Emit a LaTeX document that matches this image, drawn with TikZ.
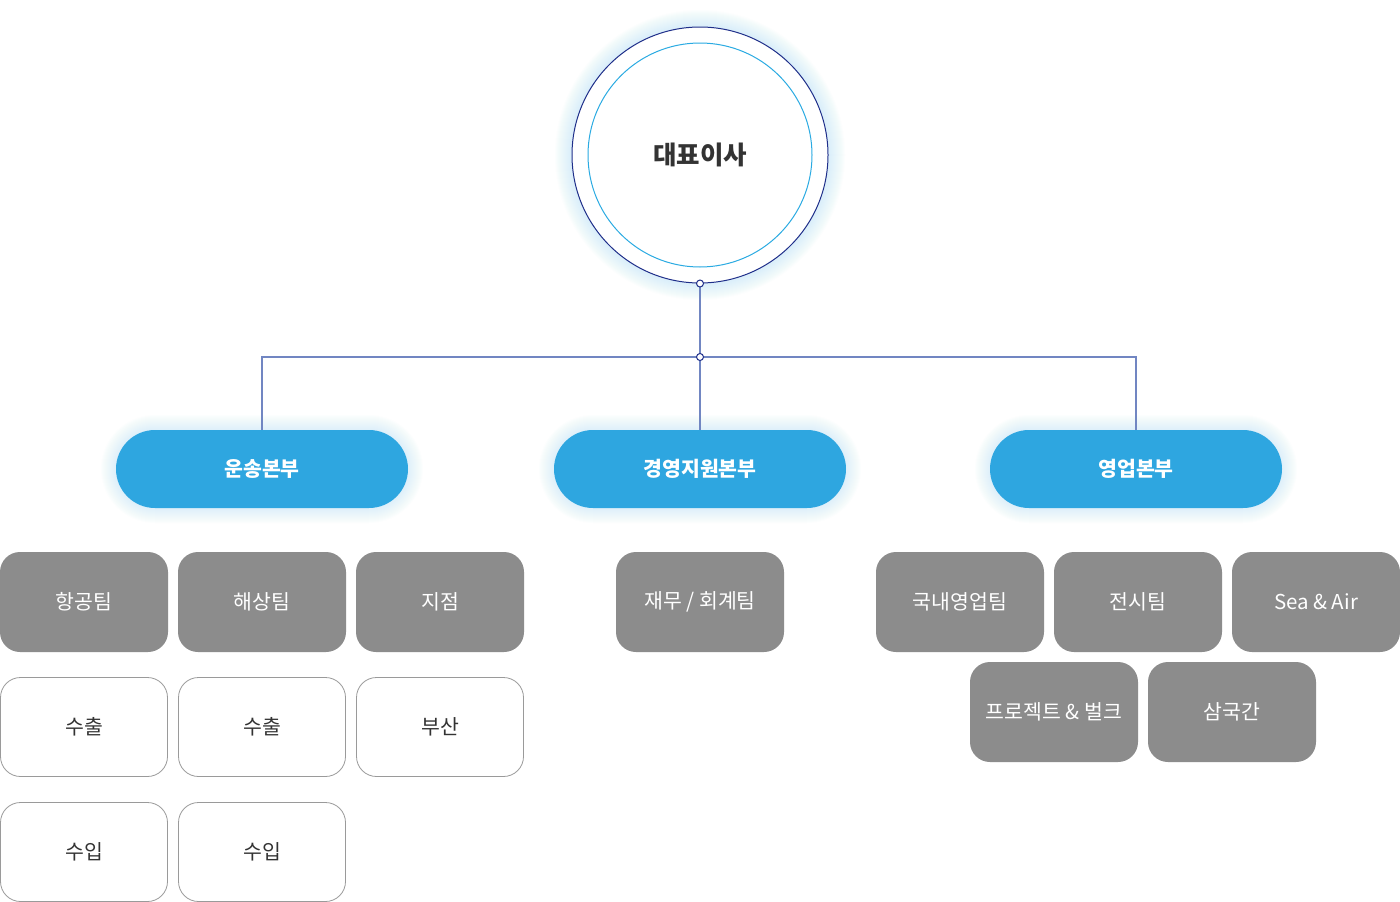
\documentclass[tikz,border=0pt]{standalone}
\usepackage{fontspec}
\setmainfont{Noto Sans CJK KR}
\definecolor{pillblue}{HTML}{2EA6E0}
\definecolor{boxgray}{HTML}{8C8C8C}
\definecolor{navy}{HTML}{1F2F8A}
\definecolor{ringblue}{HTML}{2AAAE2}
\definecolor{linkblue}{HTML}{7186C2}
\definecolor{txtdark}{HTML}{333333}
\definecolor{wborder}{HTML}{9A9A9A}
\definecolor{glow}{HTML}{C6E8FA}
\begin{document}
\begin{tikzpicture}[x=1pt,y=-1pt,
  pill/.style={fill=pillblue, rounded corners=39pt, minimum width=292pt, minimum height=78pt, inner sep=0pt,
    text=white, font=\fontsize{20.5}{24}\selectfont\bfseries},
  graybox/.style={fill=boxgray, rounded corners=20pt, minimum width=168pt, minimum height=100pt, inner sep=0pt,
    text=white, font=\fontsize{20.5}{24}\selectfont},
  whitebox/.style={draw=wborder, fill=white, line width=0.8pt, rounded corners=20pt, minimum width=167pt, minimum height=99pt, inner sep=0pt,
    text=txtdark, font=\fontsize{20.5}{24}\selectfont},
  link/.style={draw=linkblue, line width=1.3pt},
  dotmark/.style={circle, draw=navy, fill=white, line width=1pt, minimum size=7pt, inner sep=0pt}
]
\useasboundingbox (0,0) rectangle (1400,902);
\fill[white] (0,0) rectangle (1400,902);
% glow of the circle
\foreach \i in {1,...,18}{
  \fill[glow, opacity=0.045] (700,155) circle ({127pt+\i pt});
}
% glow of pills
\foreach \cx in {262,700,1136}{
  \foreach \i in {1,...,15}{
    \fill[glow, opacity=0.04, rounded corners={39pt+\i pt}] ({\cx-146-\i},{430-\i}) rectangle ({\cx+146+\i},{508+\i});
  }
}
% CEO
\node[circle, draw=navy, fill=white, line width=1pt, minimum size=256pt, inner sep=0pt] (ceo) at (700,155) {};
\draw[ringblue, line width=1pt] (ceo.center) circle (112pt);
\node[text=txtdark, font=\fontsize{25.5}{30}\selectfont\bfseries] (ceotext) at (700,155) {대표이사};
% pills
\node[pill] (p1) at (262,469) {운송본부};
\node[pill] (p2) at (700,469) {경영지원본부};
\node[pill] (p3) at (1136,469) {영업본부};
% connectors
\coordinate (junc) at (700,357);
\draw[link] (ceo.south) -- (junc);
\draw[link] (junc) -| (p1.north);
\draw[link] (junc) -| (p3.north);
\draw[link] (junc) -- (p2.north);
\node[dotmark] (d1) at (ceo.south) {};
\node[dotmark] (d2) at (junc) {};
% left group
\node[graybox] (g1) at (84,602) {항공팀};
\node[graybox] (g2) at (262,602) {해상팀};
\node[graybox] (g3) at (440,602) {지점};
\node[whitebox] (w1) at (84,727) {수출};
\node[whitebox] (w2) at (262,727) {수출};
\node[whitebox] (w3) at (440,727) {부산};
\node[whitebox] (w4) at (84,852) {수입};
\node[whitebox] (w5) at (262,852) {수입};
% middle
\node[graybox] (g4) at (700,602) {재무 / 회계팀};
% right group
\node[graybox] (g5) at (960,602) {국내영업팀};
\node[graybox] (g6) at (1138,602) {전시팀};
\node[graybox] (g7) at (1316,602) {Sea \& Air};
\node[graybox] (g8) at (1054,712) {프로젝트 \& 벌크};
\node[graybox] (g9) at (1232,712) {삼국간};
\end{tikzpicture}
\end{document}
